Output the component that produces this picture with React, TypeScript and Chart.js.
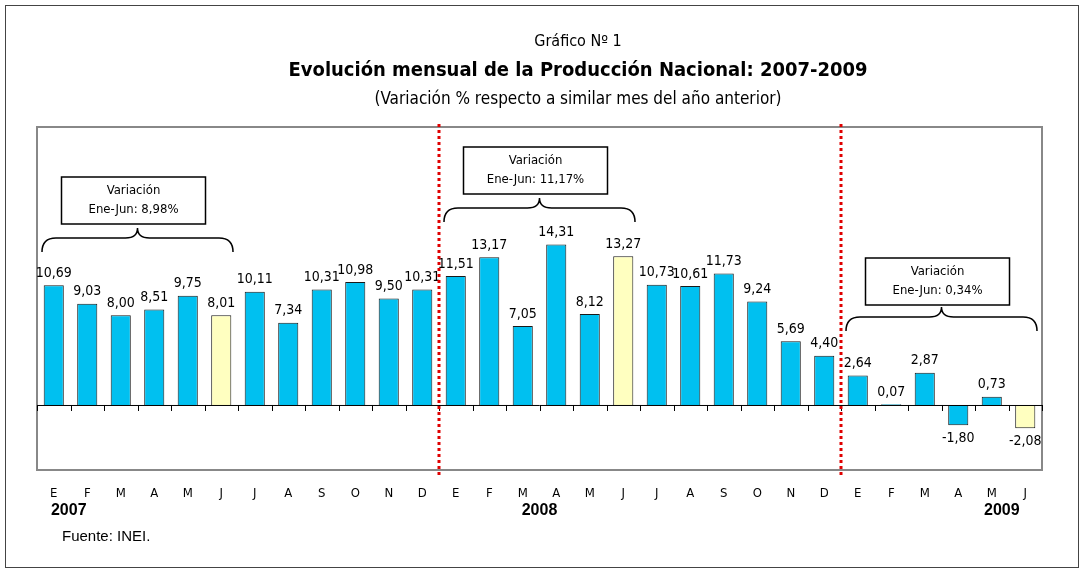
import React, { useEffect, useRef } from "react";
import { Chart, registerables } from "chart.js";
Chart.register(...registerables);

const months = ["E","F","M","A","M","J","J","A","S","O","N","D","E","F","M","A","M","J","J","A","S","O","N","D","E","F","M","A","M","J"];
const values = [10.69,9.03,8.0,8.51,9.75,8.01,10.11,7.34,10.31,10.98,9.5,10.31,11.51,13.17,7.05,14.31,8.12,13.27,10.73,10.61,11.73,9.24,5.69,4.4,2.64,0.07,2.87,-1.8,0.73,-2.08];
const highlight = [5,17,29];
const years = [{ label: "2007", at: 0 }, { label: "2008", at: 14.5 }, { label: "2009", at: 28.3 }];
const notes = [
  { from: 0, to: 5, line1: "Variación", line2: "Ene-Jun: 8,98%", boxTop: 177, braceTop: 228 },
  { from: 12, to: 17, line1: "Variación", line2: "Ene-Jun: 11,17%", boxTop: 147, braceTop: 198 },
  { from: 24, to: 29, line1: "Variación", line2: "Ene-Jun: 0,34%", boxTop: 258, braceTop: 307 },
];
const FONT = "'Liberation Sans Narrow', 'DejaVu Sans Condensed', Arial, sans-serif";
const fmt = (v: number) => v.toFixed(2).replace(".", ",");

export default function App() {
  const ref = useRef<HTMLCanvasElement>(null);
  useEffect(() => {
    const deco = {
      id: "deco",
      beforeDatasetsDraw(c: any) {
        const ctx = c.ctx; const a = c.chartArea;
        ctx.save();
        ctx.fillStyle = "#fff"; ctx.fillRect(0, 0, c.width, c.height);
        ctx.strokeStyle = "#444"; ctx.lineWidth = 1;
        ctx.strokeRect(5.5, 5.5, 1073, 562);
        ctx.strokeStyle = "#888"; ctx.lineWidth = 2;
        ctx.strokeRect(a.left, a.top, a.right - a.left, a.bottom - a.top);
        ctx.restore();
      },
      afterDatasetsDraw(c: any) {
        const ctx = c.ctx; const a = c.chartArea; const x = c.scales.x; const y = c.scales.y;
        const step = (a.right - a.left) / months.length;
        const y0 = y.getPixelForValue(0);
        ctx.save();
        ctx.strokeStyle = "#000"; ctx.lineWidth = 1;
        ctx.beginPath(); ctx.moveTo(a.left, y0 + 0.5); ctx.lineTo(a.right, y0 + 0.5);
        for (let i = 0; i <= months.length; i++) {
          const px = Math.round(a.left + i * step) + 0.5;
          ctx.moveTo(px, y0); ctx.lineTo(px, y0 + 6);
        }
        ctx.stroke();
        ctx.fillStyle = "#000"; ctx.textAlign = "center";
        ctx.font = `14px ${FONT}`;
        values.forEach((v, i) => {
          const px = x.getPixelForValue(i); const py = y.getPixelForValue(v);
          if (v >= 0) { ctx.textBaseline = "bottom"; ctx.fillText(fmt(v), px, py - 5); }
          else { ctx.textBaseline = "top"; ctx.fillText(fmt(v), px, py + 6); }
        });
        ctx.textBaseline = "middle";
        ctx.font = `13px ${FONT}`;
        months.forEach((m, i) => ctx.fillText(m, x.getPixelForValue(i), 494));
        ctx.font = `bold 16px Arial, sans-serif`;
        years.forEach(yr => ctx.fillText(yr.label, x.getPixelForValue(yr.at) + (yr.at === 0 ? 15 : 0), 511));
        ctx.font = `15px Arial, sans-serif`; ctx.textAlign = "left";
        ctx.fillText("Fuente: INEI.", 62, 537);
        ctx.strokeStyle = "#e00000"; ctx.lineWidth = 3; ctx.setLineDash([3, 3]);
        [12, 24].forEach(i => {
          const px = a.left + i * step;
          ctx.beginPath(); ctx.moveTo(px, a.top - 3); ctx.lineTo(px, a.bottom + 6); ctx.stroke();
        });
        ctx.setLineDash([]);
        notes.forEach(n => {
          const l = a.left + n.from * step + 5; const r = a.left + (n.to + 1) * step - 5;
          const mid = (l + r) / 2; const bt = n.braceTop;
          ctx.strokeStyle = "#000"; ctx.lineWidth = 1.5;
          ctx.beginPath();
          ctx.moveTo(l, bt + 24);
          ctx.quadraticCurveTo(l, bt + 10, l + 14, bt + 10);
          ctx.lineTo(mid - 12, bt + 10);
          ctx.quadraticCurveTo(mid, bt + 10, mid, bt);
          ctx.quadraticCurveTo(mid, bt + 10, mid + 12, bt + 10);
          ctx.lineTo(r - 14, bt + 10);
          ctx.quadraticCurveTo(r, bt + 10, r, bt + 24);
          ctx.stroke();
          const bw = 144, bh = 47;
          ctx.fillStyle = "#fff"; ctx.lineWidth = 1.5;
          ctx.fillRect(mid - bw / 2 - 4, n.boxTop, bw, bh);
          ctx.strokeRect(mid - bw / 2 - 4, n.boxTop, bw, bh);
          ctx.fillStyle = "#000"; ctx.textAlign = "center"; ctx.font = `13px ${FONT}`;
          ctx.fillText(n.line1, mid - 4, n.boxTop + 14);
          ctx.fillText(n.line2, mid - 4, n.boxTop + 33);
        });
        ctx.textAlign = "center";
        ctx.font = `16px ${FONT}`; ctx.fillText("Gráfico Nº 1", 578, 42);
        ctx.font = `bold 20px ${FONT}`; ctx.fillText("Evolución mensual de la Producción Nacional: 2007-2009", 578, 71);
        ctx.font = `17px ${FONT}`; ctx.fillText("(Variación % respecto a similar mes del año anterior)", 578, 100);
        ctx.restore();
      },
    };
    const chart = new Chart(ref.current!, {
      type: "bar",
      data: {
        labels: months.map((m, i) => m + i),
        datasets: [{
          data: values,
          backgroundColor: values.map((_, i) => highlight.includes(i) ? "#FFFFC0" : "#00C0F0"),
          borderColor: "#1a1a1a", borderWidth: 1,
          barPercentage: 0.6, categoryPercentage: 1,
        }],
      },
      options: {
        animation: false, responsive: false,
        layout: { padding: { left: 37, right: 43, top: 127, bottom: 105 } },
        plugins: { legend: { display: false }, tooltip: { enabled: false } },
        scales: {
          x: { display: false, offset: true },
          y: { display: false, min: -5.8, max: 24.8 },
        },
      },
      plugins: [deco],
    });
    return () => chart.destroy();
  }, []);
  return (
    <div style={{ position: "fixed", left: 0, top: 0, width: 1085, height: 575 }}>
      <canvas ref={ref} width={1085} height={575} style={{ width: 1085, height: 575 }} />
    </div>
  );
}
